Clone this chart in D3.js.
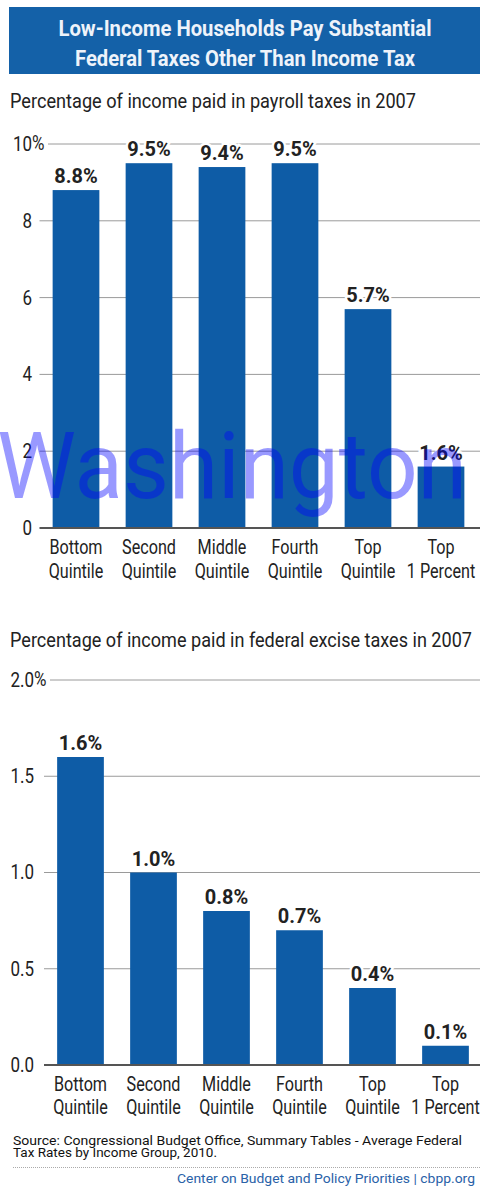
<!DOCTYPE html>
<html><head><meta charset="utf-8">
<script src="https://cdn.jsdelivr.net/npm/d3@7"></script>
<style>
html,body{margin:0;padding:0;background:#fff;}
svg{display:block;}
text{font-family:Roboto,"Liberation Sans",sans-serif;}
</style></head>
<body>
<svg id="chart" width="480" height="1190"></svg>
<script>
// ---------- data ----------
const titleLines = ["Low-Income Households Pay Substantial", "Federal Taxes Other Than Income Tax"];
const categories = [["Bottom","Quintile"],["Second","Quintile"],["Middle","Quintile"],["Fourth","Quintile"],["Top","Quintile"],["Top","1 Percent"]];
const payrollTitle = "Percentage of income paid in payroll taxes in 2007";
const payrollValues = [8.8, 9.5, 9.4, 9.5, 5.7, 1.6];
const payrollLabels = ["8.8%","9.5%","9.4%","9.5%","5.7%","1.6%"];
const payrollTicks = [0, 2, 4, 6, 8, 10];
const payrollTickLabels = ["0","2","4","6","8","10"];
const exciseTitle = "Percentage of income paid in federal excise taxes in 2007";
const exciseValues = [1.6, 1.0, 0.8, 0.7, 0.4, 0.1];
const exciseLabels = ["1.6%","1.0%","0.8%","0.7%","0.4%","0.1%"];
const exciseTicks = [0, 0.5, 1.0, 1.5, 2.0];
const exciseTickLabels = ["0.0","0.5","1.0","1.5","2.0"];
const sourceLines = ["Source: Congressional Budget Office, Summary Tables - Average Federal", "Tax Rates by Income Group, 2010."];
const footer = "Center on Budget and Policy Priorities | cbpp.org";
const watermark = "Washington";

// ---------- drawing ----------
const svg = d3.select("#chart");
const BAR = "#0e5ca6";
const TXT = "#222";

function fit(sel, w){ sel.attr("textLength", w).attr("lengthAdjust","spacingAndGlyphs"); }
function squeeze(sel, k){
  sel.each(function(){
    const L = this.getComputedTextLength();
    d3.select(this).attr("textLength", L*k).attr("lengthAdjust","spacingAndGlyphs");
  });
}

// header
svg.append("rect").attr("x",9).attr("y",7).attr("width",471).attr("height",67).attr("fill","#1461a8");
titleLines.forEach((t,i)=>{
  const tx = svg.append("text").attr("x",245).attr("y",[36,66][i])
    .attr("text-anchor","middle").attr("font-weight","bold").attr("font-size",22)
    .attr("fill","#eef3fa").text(t);
  fit(tx, [373,340][i]);
});

function drawChart(o){
  const x = d3.scaleBand().domain(d3.range(categories.length))
    .range([o.x0, o.x0 + 438]).paddingInner(0.36).paddingOuter(0.18);
  const y = d3.scaleLinear().domain([0, d3.max(o.ticks)]).range([o.yBase, o.yTop]);

  const st = svg.append("text").attr("x",10).attr("y",o.titleY)
    .attr("font-size",21).attr("fill",TXT).text(o.title);
  fit(st, o.titleW);

  const g = svg.append("g");
  // y axis labels via d3 axis
  const ax = g.append("g").attr("transform",`translate(${o.labelX},0)`)
    .call(d3.axisLeft(y).tickValues(o.ticks).tickSize(0).tickPadding(0)
      .tickFormat((d,i)=>o.tickLabels[i]));
  ax.select(".domain").remove();
  ax.attr("font-family",null).attr("font-size",null);
  ax.selectAll("text").attr("font-size",20).attr("fill",TXT);
  squeeze(ax.selectAll("text"), 0.85);
  // percent sign on top tick
  const topV = d3.max(o.ticks);
  const pct = g.append("text").attr("x",o.labelX).attr("y",y(topV)).attr("dy","0.32em")
    .attr("font-size",20).attr("fill",TXT).text("%");
  squeeze(pct, 0.85);

  // gridlines
  g.insert("g",":first-child").selectAll("line").data(o.ticks.filter(d=>d>0)).join("line")
    .attr("x1",d=> d===topV ? o.labelX+16 : o.x0).attr("x2",480)
    .attr("y1",d=>y(d)).attr("y2",d=>y(d))
    .attr("stroke","#9a9a9a").attr("stroke-width",1);

  // bars
  g.append("g").selectAll("rect").data(o.values).join("rect")
    .attr("x",(d,i)=>x(i)).attr("width",x.bandwidth())
    .attr("y",d=>y(d)).attr("height",d=>y(0)-y(d)).attr("fill",BAR);

  // baseline
  g.append("line").attr("x1",o.x0).attr("x2",480).attr("y1",y(0)).attr("y2",y(0))
    .attr("stroke","#555").attr("stroke-width",2);

  // value labels
  const vl = g.append("g").selectAll("text").data(o.values).join("text")
    .attr("x",(d,i)=>x(i)+x.bandwidth()/2).attr("y",d=>y(d)-7)
    .attr("text-anchor","middle").attr("font-weight","bold").attr("font-size",21)
    .attr("fill","#222").attr("stroke","#fff").attr("stroke-width",5).attr("paint-order","stroke")
    .text((d,i)=>o.labels[i]);
  squeeze(vl, 0.95);

  // category labels
  const cg = g.append("g");
  categories.forEach((c,i)=>{
    c.forEach((line,j)=>{
      cg.append("text").attr("x",x(i)+x.bandwidth()/2)
        .attr("y",y(0)+26+j*o.lineGap).attr("text-anchor","middle")
        .attr("font-size",21).attr("fill",TXT).text(line);
    });
  });
  squeeze(cg.selectAll("text"), 0.77);
}

drawChart({title:payrollTitle, titleY:108, titleW:406, values:payrollValues, labels:payrollLabels,
  ticks:payrollTicks, tickLabels:payrollTickLabels, x0:39.5, yBase:528, yTop:144, labelX:32, lineGap:24});
drawChart({title:exciseTitle, titleY:647, titleW:462, values:exciseValues, labels:exciseLabels,
  ticks:exciseTicks, tickLabels:exciseTickLabels, x0:44, yBase:1065, yTop:680, labelX:34, lineGap:23});

// source
sourceLines.forEach((t,i)=>{
  const s = svg.append("text").attr("x",13).attr("y",[1145,1157][i])
    .attr("font-size",12.5).attr("fill","#111").text(t);
  fit(s, [449,204][i]);
});
svg.append("line").attr("x1",13).attr("x2",480).attr("y1",1167.5).attr("y2",1167.5)
  .attr("stroke","#aaa").attr("stroke-width",1).attr("stroke-dasharray","1,1");
const ft = svg.append("text").attr("x",475).attr("y",1183).attr("text-anchor","end")
  .attr("font-size",13).attr("fill","#2a62a8").text(footer);
fit(ft, 298);

// watermark overlay
const wm = svg.append("text").attr("x",-3).attr("y",498)
  .attr("font-family","'Liberation Sans',Arial,sans-serif").attr("font-size",93)
  .attr("fill","rgb(0,0,255)").attr("fill-opacity",0.4).text(watermark);
fit(wm, 470);
</script>
</body></html>
